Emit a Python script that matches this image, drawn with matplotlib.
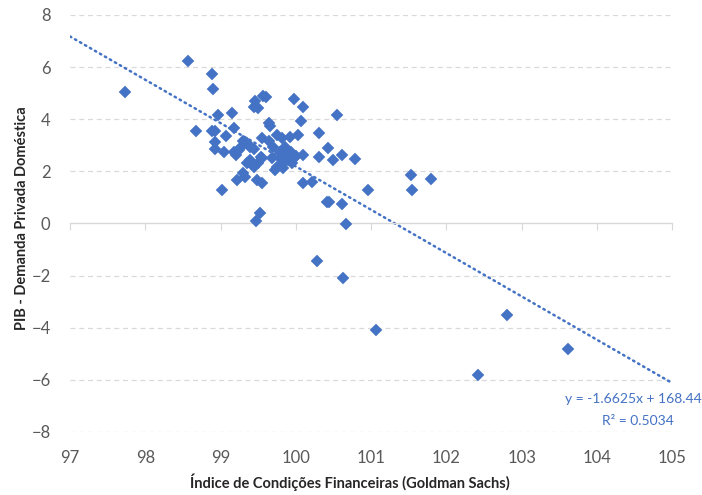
import numpy as np
import matplotlib.pyplot as plt

# Índice de Condições Financeiras (x) vs PIB - Demanda Privada Doméstica (y)
fci = [97.73, 98.57, 98.88, 98.90, 98.97, 99.15, 98.67, 98.88, 98.92, 99.07,
       99.18, 98.93, 98.93, 99.05, 99.02, 99.22, 99.52, 99.47, 99.46, 99.50,
       99.57, 99.60, 99.44, 99.97, 100.09, 100.55, 100.07, 99.64, 99.66, 99.18,
       99.24, 99.21, 99.35, 99.39, 99.44, 99.55, 99.64, 99.75, 99.81, 99.92,
       100.03, 99.54, 99.68, 99.79, 99.86, 99.90, 99.83, 99.75, 99.72, 99.83,
       99.95, 99.79, 99.35, 99.39, 99.44, 99.30, 99.33, 99.48, 99.55, 99.50,
       99.55, 100.10, 100.31, 100.43, 100.31, 100.50, 100.62, 100.79, 100.10, 100.21,
       100.41, 100.44, 100.62, 100.96, 100.67, 100.28, 100.63, 101.53, 101.79, 101.54,
       102.81, 103.61, 102.42, 101.07, 99.88, 99.97, 99.93, 99.85, 99.70, 100.00,
       99.30, 99.26]
pib = [5.05, 6.25, 5.74, 5.15, 4.15, 4.25, 3.56, 3.56, 3.55, 3.36,
       3.65, 3.12, 2.86, 2.73, 1.29, 1.67, 0.39, 0.08, 4.71, 4.42,
       4.89, 4.87, 4.48, 4.78, 4.48, 4.15, 3.95, 3.85, 3.75, 2.76,
       2.82, 2.63, 3.08, 2.95, 2.86, 3.27, 3.18, 3.40, 3.27, 3.31,
       3.40, 2.56, 2.50, 2.76, 2.56, 2.44, 2.31, 2.18, 2.05, 2.12,
       2.31, 2.50, 2.31, 2.44, 2.18, 1.93, 1.80, 1.67, 1.57, 2.31,
       2.50, 2.63, 3.46, 2.88, 2.54, 2.44, 2.63, 2.46, 1.57, 1.60,
       0.84, 0.83, 0.75, 1.29, -0.02, -1.43, -2.10, 1.86, 1.70, 1.29,
       -3.50, -4.82, -5.81, -4.09, 2.65, 2.50, 2.75, 2.95, 2.95, 2.60,
       3.15, 2.89]

# linear trend reported in the chart
slope, intercept = -1.6625, 168.44
r2 = 0.5034

x_ticks = [97, 98, 99, 100, 101, 102, 103, 104, 105]
y_ticks = [-8, -6, -4, -2, 0, 2, 4, 6, 8]

blue = '#4472C4'
grid = '#D9D9D9'
label_col = '#595959'

fig = plt.figure(figsize=(7.02, 4.95), dpi=100)
ax = fig.add_axes([0.0997, 0.1273, 0.8578, 0.8424])

# dashed horizontal gridlines (except zero, which is the axis line)
for yv in y_ticks:
    if yv != 0:
        ax.axhline(yv, color=grid, lw=0.9, ls=(0, (4, 3)), zorder=0)

# trendline
xs = np.array([x_ticks[0], x_ticks[-1]])
ax.plot(xs, slope * xs + intercept, color=blue, lw=1.8, ls=(0, (0.6, 1.7)),
        dash_capstyle='round', zorder=2)

ax.plot(fci, pib, ls='none', marker='D', ms=6.2, color=blue, mec=blue,
        mew=0.3, zorder=3)

ax.set_xlim(97, 105)
ax.set_ylim(-8, 8)
ax.set_yticks(y_ticks)
ax.set_xticks(x_ticks)

for s in ['top', 'right', 'left']:
    ax.spines[s].set_visible(False)
ax.spines['bottom'].set_position(('data', 0))
ax.spines['bottom'].set_color(grid)
ax.spines['bottom'].set_linewidth(1.0)
ax.tick_params(axis='x', direction='out', length=5, color=grid,
               labelbottom=False)
ax.tick_params(axis='y', length=0, pad=14, labelsize=12, labelcolor=label_col)
for t in ax.get_yticklabels():
    t.set_family('Lato')

# tick labels below the plot area
sec = ax.secondary_xaxis('bottom')
sec.set_xticks(x_ticks)
sec.tick_params(length=0, pad=13, labelsize=12, labelcolor=label_col)
sec.spines['bottom'].set_visible(False)
for t in sec.get_xticklabels():
    t.set_family('Lato')

fig.text(0.499, 0.026, 'Índice de Condições Financeiras (Goldman Sachs)',
         ha='center', va='center', fontsize=10.5, fontweight='bold',
         color='#262626', family='Lato')
fig.text(0.032, 0.56, 'PIB - Demanda Privada Doméstica', rotation=90,
         ha='center', va='center', fontsize=10.5, fontweight='bold',
         color='#262626', family='Lato')

fig.text(0.999, 0.193, 'y = -1.6625x + 168.44', ha='right', va='center',
         color=blue, fontsize=10, family='Lato')
fig.text(0.908, 0.150, 'R² = 0.5034', ha='center', va='center',
         color=blue, fontsize=10, family='Lato')

fig.savefig('out.png', dpi=100)
